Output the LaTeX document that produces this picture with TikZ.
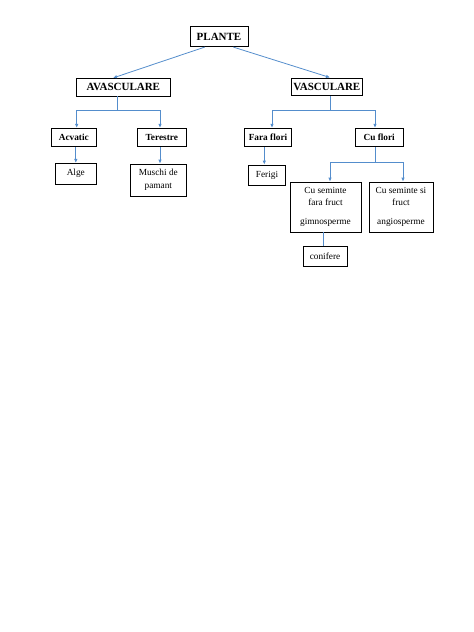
\documentclass[tikz,border=0pt]{standalone}
\usepackage{fontspec}
\setmainfont{Liberation Serif}
\usetikzlibrary{arrows.meta}
\definecolor{linkblue}{RGB}{84,141,204}
\begin{document}
\begin{tikzpicture}[x=1pt,y=-1pt,
		box/.style={draw,line width=0.8pt,inner sep=0pt,align=center,font=\fontsize{9.3}{11}\selectfont},
		head/.style={box,font=\fontsize{11}{13}\selectfont\bfseries,minimum height=17.7pt},
		sub/.style={box,font=\fontsize{9.3}{11}\selectfont\bfseries,minimum height=18.4pt},
		link/.style={draw=linkblue,line width=0.8pt},
		arr/.style={link,-{Latex[length=4pt,width=3.5pt]}}]
	\useasboundingbox (0,0) rectangle (474,632);

	\node (Plante) [head,minimum width=58pt,minimum height=20pt] at (219,36.7) {PLANTE};

	\node (Avasc) [head,minimum width=94.7pt] at (123.3,87.2) {AVASCULARE};
	\draw[arr] (Plante.-144) -- ([xshift=-10.3pt]Avasc.north);

	\node (Vasc) [head,minimum width=71.7pt] at (326.8,86.8) {VASCULARE};
	\draw[arr] (Plante.-36) -- ([xshift=3.2pt]Vasc.north);

	% avasculare
	\node (Acv) [sub,minimum width=44.3pt] at (73.8,137.5) {Acvatic};
	\node (Ter) [sub,minimum width=49.7pt] at (161.8,137.5) {Terestre};
	\coordinate (AvJ) at (117.5,110);
	\draw[link] ([xshift=-5.8pt]Avasc.south) -- (AvJ);
	\draw[arr] (AvJ) -| ([xshift=2.9pt]Acv.north);
	\draw[arr] (AvJ) -| ([xshift=-1.8pt]Ter.north);

	\node (Alge) [box,minimum width=41.7pt,minimum height=20.7pt] at (75.8,173.7) {Alge};
	\draw[arr] (Acv.south -| Alge.north) -- (Alge.north);

	\node (Muschi) [box,minimum width=56.7pt,minimum height=32pt] at (158.3,180) {Muschi de\\[1.7pt]pamant};
	\draw[arr] ([xshift=-1.8pt]Ter.south) -- ([xshift=-1.8pt]Ter.south |- Muschi.north);

	% vasculare
	\node (Fara) [sub,minimum width=47.4pt] at (268,137.5) {Fara flori};
	\node (CuFlori) [sub,minimum width=48.3pt] at (379.2,137.5) {Cu flori};
	\coordinate (VaJ) at (330,110);
	\draw[link] ([xshift=3.2pt]Vasc.south) -- (VaJ);
	\draw[arr] (VaJ) -| ([xshift=4pt]Fara.north);
	\draw[arr] (VaJ) -| ([xshift=-4.2pt]CuFlori.north);

	\node (Ferigi) [box,minimum width=37.4pt,minimum height=20pt] at (267,175) {Ferigi};
	\draw[arr] ([xshift=-2.7pt]Ferigi.north |- Fara.south) -- ([xshift=-2.7pt]Ferigi.north);

	\node (Gimno) [box,minimum width=71pt,minimum height=50pt] at (325.5,207) {Cu seminte\\[1.2pt]fara fruct\\[7.6pt]gimnosperme};
	\node (Angio) [box,minimum width=64pt,minimum height=50pt] at (401,207) {Cu seminte si\\[1.2pt]fruct\\[7.6pt]angiosperme};
	\coordinate (CfJ) at (375,162);
	\draw[link] ([xshift=-4.2pt]CuFlori.south) -- (CfJ);
	\draw[arr] (CfJ) -| ([xshift=4.5pt]Gimno.north);
	\draw[arr] (CfJ) -| ([xshift=2pt]Angio.north);

	\node (Conif) [box,minimum width=44pt,minimum height=20pt] at (325,256) {conifere};
	\draw[link] ([xshift=-2pt]Conif.north |- Gimno.south) -- ([xshift=-2pt]Conif.north);
\end{tikzpicture}
\end{document}
